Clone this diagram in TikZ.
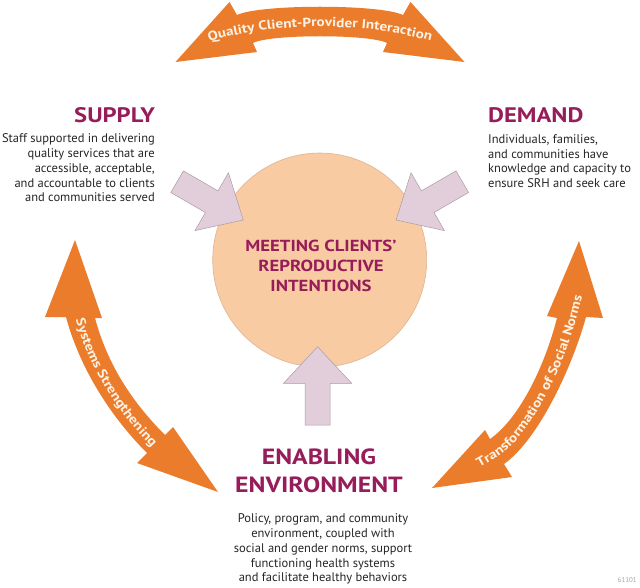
\documentclass[tikz,border=0pt]{standalone}
\usepackage{fontspec}
\setmainfont{PT Sans}
\newfontfamily\headfont[FakeStretch=1.17]{PT Sans}
\usetikzlibrary{decorations.text}
\definecolor{orangeA}{RGB}{235,124,44}
\definecolor{peach}{RGB}{249,203,163}
\definecolor{peachedge}{RGB}{222,180,150}
\definecolor{mauve}{RGB}{226,206,218}
\definecolor{mauveedge}{RGB}{170,155,165}
\definecolor{plum}{RGB}{150,28,90}
\definecolor{bodytxt}{RGB}{40,36,38}
\definecolor{arrowtxt}{RGB}{253,242,228}
\newcommand\arrowlabelfont{\headfont\fontsize{13}{16}\selectfont\bfseries\color{arrowtxt}}
\begin{document}
\begin{tikzpicture}[x=1pt,y=-1pt,
  orangearrow/.style={fill=orangeA, draw=none},
  pinkarrow/.style={fill=mauve, draw=mauveedge, line width=0.5pt, line join=miter},
  heading/.style={font=\headfont\fontsize{21}{24}\selectfont\bfseries, text=plum, inner sep=0pt},
  bodytext/.style={font=\fontsize{12.5}{14.8}\selectfont, text=bodytxt, inner sep=0pt},
  arrowlabel/.style={decorate, decoration={text along path, text align=center}}]
\useasboundingbox (0,0) rectangle (640,588);
\fill[white] (0,0) rectangle (640,588);

% orange curved arrows
\fill[orangearrow] (175.5,62) -- (229.5,2) -- (237,15) .. controls (260,4) and (380,4) .. (403,15)
  -- (410.5,2) -- (464.5,62) -- (383,52) -- (387,43) .. controls (370,34) and (270,34) .. (253,43)
  -- (257,52) -- cycle;
\fill[orangearrow] (75,240) -- (102,318) -- (95,318) .. controls (107.3,363.8) and (131.5,401.5) .. (165,435)
  -- (173,427) -- (218,492) -- (137,463) -- (147,453) .. controls (110,416) and (79.6,367.6) .. (66,317)
  -- (45,317) -- cycle;
\fill[orangearrow] (579,241) -- (547,316) -- (557,318) .. controls (545,365) and (520,418) .. (490,439)
  -- (485,430) -- (432,488) -- (512,477) -- (504,464) .. controls (538,440) and (572,368) .. (586,317)
  -- (603,318) -- cycle;

\path[arrowlabel, decoration={text={|\arrowlabelfont|Quality Client-Provider Interaction}}]
  (200,44) .. controls (270,21) and (370,21) .. (440,44);
\path[arrowlabel, decoration={text={|\arrowlabelfont|Systems Strengthening}}]
  (69.2,294.6) -- (75.7,318.8) .. controls (88.6,367) and (117.2,412.2) .. (152.5,447.5) -- (170.2,465.2);
\path[arrowlabel, decoration={text={|\arrowlabelfont|Transformation of Social Norms}}]
  (473.5,470.7) -- (499.5,455.8) .. controls (531.5,433.3) and (563.3,367.8) .. (576.3,318.8) -- (584,289.8);

% central goal
\node[circle, fill=peach, draw=peachedge, line width=0.6pt, minimum size=214pt, inner sep=0pt] (goal) at (319.7,260) {};
\node[font=\headfont\fontsize{16}{20}\selectfont\bfseries, text=plum, align=center, anchor=north, inner sep=0pt]
  (goaltext) at (321,240) {MEETING CLIENTS’\\REPRODUCTIVE\\INTENTIONS};

% pink block arrows
\draw[pinkarrow] (243.3,220) -- (228.4,172.8) -- (218,190.9) -- (183.4,170.9) -- (170.8,192.5)
  -- (205.4,212.5) -- (195,230.6) -- cycle;
\draw[pinkarrow] (396.1,220) -- (411,172.8) -- (421.4,190.9) -- (456,170.9) -- (468.6,192.5)
  -- (434,212.5) -- (444.4,230.6) -- cycle;
\draw[pinkarrow] (317.6,346.7) -- (351.7,383.3) -- (330,383.3) -- (330,425) -- (305,425)
  -- (305,383.3) -- (283.5,383.3) -- cycle;

% supply
\node[heading, anchor=base east] (supplyhead) at (155,123) {SUPPLY};
\node[bodytext, align=right, anchor=north east] (supplytext) at (155,133.7)
  {Staff supported in delivering\\quality services that are\\accessible, acceptable,\\and accountable to clients\\and communities served};

% demand
\node[heading, anchor=base west] (demandhead) at (488,123) {DEMAND};
\node[bodytext, align=left, anchor=north west] (demandtext) at (488,134.3)
  {Individuals, families,\\and communities have\\knowledge and capacity to\\ensure SRH and seek care};

% enabling environment
\node[heading, font=\headfont\fontsize{22}{28}\selectfont\bfseries, align=center, anchor=north] (enablehead) at (319,449)
  {ENABLING\\ENVIRONMENT};
\node[bodytext, align=center, anchor=north] (enabletext) at (323,513.7)
  {Policy, program, and community\\environment, coupled with\\social and gender norms, support\\functioning health systems\\and facilitate healthy behaviors};

\node[font=\fontsize{7}{8}\selectfont, text=black!35, anchor=east, inner sep=0pt] (figcode) at (637,580) {61101};
\end{tikzpicture}
\end{document}
